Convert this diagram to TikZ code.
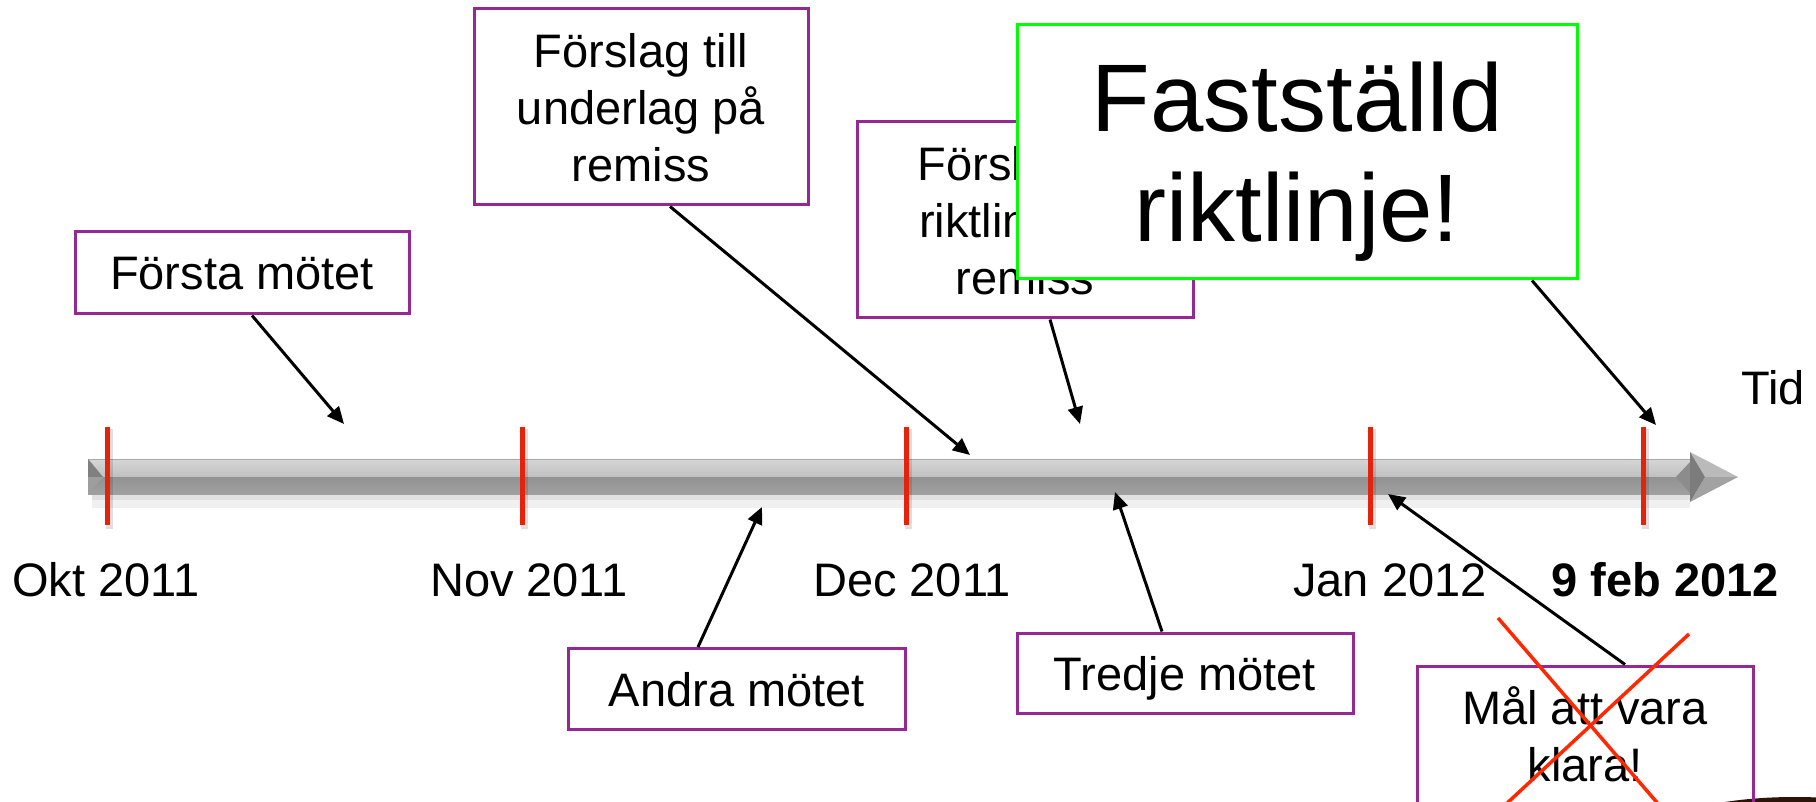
\documentclass[tikz,border=0pt]{standalone}
\usepackage{fontspec}
\setmainfont{Liberation Sans}
\usetikzlibrary{arrows.meta,calc}
\definecolor{boxpurple}{RGB}{150,40,150}
\definecolor{tickred}{RGB}{230,35,10}
\definecolor{crossred}{RGB}{255,40,0}
\definecolor{limegreen}{RGB}{0,255,0}
\definecolor{barlight}{RGB}{214,214,214}
\definecolor{barmid}{RGB}{192,192,192}
\definecolor{bardark}{RGB}{146,146,146}
\definecolor{bardarkb}{RGB}{160,160,160}
\definecolor{baredge}{RGB}{168,168,168}
\definecolor{mugbrown}{RGB}{45,20,10}
\tikzset{
  evt/.style={draw=boxpurple, line width=3pt, fill=white, inner sep=0pt,
    align=center, text depth=0pt, font=\fontsize{47}{57}\selectfont},
  final/.style={draw=limegreen, line width=3pt, fill=white, inner sep=0pt,
    align=center, text depth=0pt, font=\fontsize{96}{110}\selectfont},
  datelbl/.style={anchor=base, inner sep=0pt, font=\fontsize{47}{57}\selectfont},
  conn/.style={draw=black, line width=3pt, -{Triangle[length=17pt,width=15pt]}},
  tickmark/.style={fill=tickred, draw=none},
  strike/.style={draw=crossred, line width=3.5pt}
}
\begin{document}
\begin{tikzpicture}[x=1pt,y=-1pt]
\useasboundingbox (0,0) rectangle (1816,802);
\clip (0,0) rectangle (1816,802);
\fill[white] (0,0) rectangle (1816,802);

% soft shadow under the time bar
\fill[black, opacity=0.06] (92,493) rectangle (1690,508);
\fill[black, opacity=0.06] (92,493) rectangle (1690,500);

% time bar: light upper half, darker lower half
\shade[top color=barlight, bottom color=barmid] (88,459) rectangle (1690,477);
\shade[top color=bardark, bottom color=bardarkb] (88,477) rectangle (1690,494);
\draw[baredge, line width=1.5pt] (88,459.7) -- (1690,459.7);

% bevelled left end
\fill[fill={rgb,255:red,128;green,128;blue,128}] (88,459) -- (103,477) -- (88,477) -- cycle;
\fill[fill={rgb,255:red,158;green,158;blue,158}] (88,477) -- (103,477) -- (88,494) -- cycle;

% bevel before the arrow head
\fill[fill={rgb,255:red,140;green,140;blue,140}] (1676,477) -- (1690,462) -- (1690,493) -- cycle;

% arrow head of the bar
\fill[fill={rgb,255:red,186;green,186;blue,186}] (1690,452) -- (1738,477) -- (1705,477) -- cycle;
\fill[fill={rgb,255:red,162;green,162;blue,162}] (1705,477) -- (1738,477) -- (1690,502) -- cycle;
\fill[fill={rgb,255:red,124;green,124;blue,124}] (1690,452) -- (1705,477) -- (1690,502) -- cycle;

% month ticks
\foreach \tx in {107,522,906,1370,1643}{
  \fill[black, opacity=0.12] (\tx-1.5,429) rectangle (\tx+5.5,529);
  \fill[tickmark] (\tx-2.5,427) rectangle (\tx+2.5,525);
}

% date labels
\node[datelbl] (okt) at (106,596) {Okt 2011};
\node[datelbl] (nov) at (529,596) {Nov 2011};
\node[datelbl] (dec) at (912,596) {Dec 2011};
\node[datelbl] (jan) at (1390,596) {Jan 2012};
\node[datelbl, font=\fontsize{47}{57}\selectfont\bfseries] (feb) at (1665,596) {9 feb 2012};
\node[datelbl] (tid) at (1773,404) {Tid};

% points on the bar that the milestones refer to
\coordinate (t1) at (344,424);
\coordinate (t2) at (970,455);
\coordinate (t3) at (1080,424);
\coordinate (t4) at (1656,425);
\coordinate (t5) at (762,507);
\coordinate (t6) at (1115,492);
\coordinate (t7) at (1388,494);

% milestones above the bar
\node[evt, minimum width=334pt, minimum height=82pt] (f1) at (242,273) {Första mötet};
\node[evt, minimum width=334pt, minimum height=196pt] (f2) at (641,107) {Förslag till\\underlag på\\remiss};
\node[evt, minimum width=336pt, minimum height=196pt] (f3) at (1025,220) {Förslag till\\riktlinje på\\remiss};
\draw[conn] ([xshift=10pt]f1.south) -- (t1);
\draw[conn] ([xshift=29pt]f2.south) -- (t2);
\draw[conn] ([xshift=25pt]f3.south) -- (t3);

\node[final, minimum width=560pt, minimum height=254pt] (f4) at (1297,152) {Fastställd\\riktlinje!};
\draw[conn] ([xshift=235pt]f4.south) -- (t4);

% milestones below the bar
\node[evt, minimum width=337pt, minimum height=81pt] (f5) at (737,689) {Andra mötet};
\node[evt, minimum width=336pt, minimum height=80pt] (f6) at (1185,673) {Tredje mötet};
\draw[conn] ([xshift=-39pt]f5.north) -- (t5);
\draw[conn] ([xshift=-23pt]f6.north) -- (t6);

% dark rim in the lower right corner
\fill[mugbrown] (1795,832) ellipse [x radius=136, y radius=35];

\node[evt, fill=none, minimum width=336pt, minimum height=137pt] (f7) at (1585,734.5) {Mål att vara\\klara!};
\draw[conn] ([xshift=40pt]f7.north) -- (t7);

% the abandoned target is crossed out
\draw[strike] (1498,618) -- (1660,806);
\draw[strike] (1689,634) -- (1504,806);
\end{tikzpicture}
\end{document}
